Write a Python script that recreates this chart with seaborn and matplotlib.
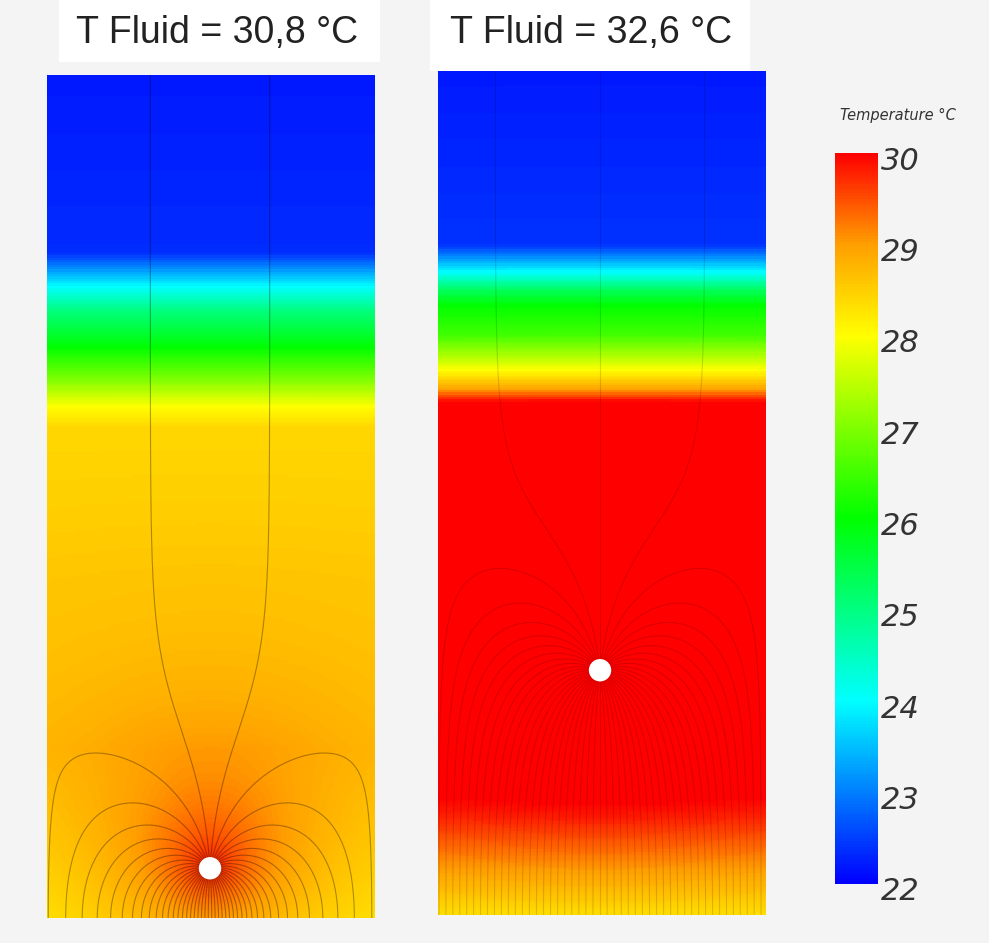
import numpy as np
import seaborn as sns
import matplotlib.pyplot as plt
from matplotlib.colors import LinearSegmentedColormap
from matplotlib.patches import Rectangle
from matplotlib.transforms import ScaledTranslation

# ---- data ----
titles = ['T Fluid = 30,8 °C', 'T Fluid = 32,6 °C']
cbar_ticks = [22, 23, 24, 25, 26, 27, 28, 29, 30]
cmap_colors = ['#0000ff', '#0080ff', '#00ffff', '#00ff80', '#00ff00',
               '#80ff00', '#ffff00', '#ffa000', '#ff0000']

# vertical temperature profiles (depth = fraction of panel height from top)
left_depth = [0.00, 0.211, 0.231, 0.251, 0.279, 0.323, 0.362, 0.394, 0.418, 0.60, 0.80, 1.00]
left_temp = [22.2, 22.35, 23.2, 24.0, 25.0, 26.0, 27.0, 28.0, 28.4, 28.55, 28.6, 28.1]
right_depth = [0.00, 0.206, 0.222, 0.238, 0.26, 0.278, 0.313, 0.342, 0.36, 0.376, 0.395, 0.83, 0.886, 0.935, 1.00]
right_temp = [22.2, 22.4, 23.2, 24.0, 25.3, 26.0, 26.5, 27.5, 28.2, 28.9, 30.2, 30.2, 29.7, 29.1, 28.3]

# heat source (white dot): x fraction, depth fraction
dot_x = [0.497, 0.494]
dot_depth = [0.941, 0.710]
# warm halo around the source: amplitude (°C), decay length (panel widths)
halo_amp = [1.6, 0.5]
halo_len = [0.28, 0.30]
# flux lines: total count, share of flux coming from the top, angular offset
n_lines = [46, 50]
top_share = [0.057, 0.0606]
line_offset = [0.5, 0.0]
line_alpha = [0.32, 0.14]

panel_h = [843 / 328, 844 / 328]  # panel height in panel widths
nx, ny = 140, 360

cmap = LinearSegmentedColormap.from_list('temp', list(zip(np.linspace(0, 1, 9), cmap_colors)))

fig = plt.figure(figsize=(9.89, 9.43), dpi=100, facecolor='#f4f4f4')
axes = [fig.add_axes([47 / 989, 25 / 943, 328 / 989, 843 / 943]),
        fig.add_axes([438 / 989, 28 / 943, 328 / 989, 844 / 943])]
cax = fig.add_axes([835 / 989, 59 / 943, 43 / 989, 731 / 943])


def trace_lines(x0, y0, H, n, share, offset):
    # flux lines of a sink in a walled channel, bottom held at fixed temperature
    z0 = x0 + 1j * y0
    M, V = 1.0, share

    def vel(z):
        w = 1j * V - M / 2 / np.tan(np.pi * (z - z0)) + M / 2 / np.tan(np.pi * (z - np.conj(z0)))
        v = -np.conj(w)
        return v / np.abs(v)

    ang = np.pi / 2 + (np.arange(n) + offset) * 2 * np.pi / n
    z = z0 + 0.012 * np.exp(1j * ang)
    alive = np.ones(n, bool)
    paths = [z.copy()]
    ds = 0.003
    for _ in range(3000):
        k1 = vel(z)
        k2 = vel(z + 0.5 * ds * k1)
        znew = z + ds * k2
        znew = np.clip(znew.real, 0, 1) + 1j * znew.imag
        z = np.where(alive, znew, z)
        alive &= (z.imag > 0) & (z.imag < H)
        paths.append(z.copy())
        if not alive.any():
            break
    return np.array(paths)


profiles = [(left_depth, left_temp), (right_depth, right_temp)]
for i, ax in enumerate(axes):
    H = panel_h[i]
    xs = (np.arange(nx) + 0.5) / nx
    ds_ = (np.arange(ny) + 0.5) / ny
    base = np.interp(ds_, profiles[i][0], profiles[i][1])
    r = np.hypot(xs[None, :] - dot_x[i], (ds_[:, None] - dot_depth[i]) * H)
    field = base[:, None] + halo_amp[i] * np.exp(-r / halo_len[i])

    sns.heatmap(field, ax=ax, cmap=cmap, vmin=22, vmax=30,
                cbar=(i == 1), cbar_ax=cax if i == 1 else None,
                xticklabels=False, yticklabels=False, rasterized=True)

    paths = trace_lines(dot_x[i], (1 - dot_depth[i]) * H, H, n_lines[i], top_share[i], line_offset[i])
    cols = paths.real * nx
    rows = (H - paths.imag) / H * ny
    ax.plot(cols, rows, color='black', alpha=line_alpha[i], lw=0.8)
    ax.scatter([dot_x[i] * nx], [dot_depth[i] * ny], s=260, color='white', zorder=5, edgecolors='none')
    ax.set_xlim(0, nx)
    ax.set_ylim(ny, 0)
    ax.axis('off')

cbar = axes[1].collections[0].colorbar
cbar.set_ticks(cbar_ticks)
cbar.outline.set_visible(False)
cax.tick_params(length=0, pad=2, labelsize=22, labelcolor='#333333')
shift = ScaledTranslation(0, -5 / 100, fig.dpi_scale_trans)
for t in cax.get_yticklabels():
    t.set_fontstyle('italic')
    t.set_transform(t.get_transform() + shift)

fig.text(898 / 989, 1 - 115 / 943, 'Temperature °C', ha='center', va='center',
         fontsize=10.5, style='italic', color='#333333')

# white title boxes
fig.add_artist(Rectangle((59 / 989, 1 - 62 / 943), 321 / 989, 62 / 943,
                         transform=fig.transFigure, facecolor='white', edgecolor='none'))
fig.add_artist(Rectangle((430 / 989, 1 - 71 / 943), 320 / 989, 71 / 943,
                         transform=fig.transFigure, facecolor='white', edgecolor='none'))
fig.text(217 / 989, 1 - 43 / 943, titles[0], ha='center', va='baseline',
         fontsize=27, family='Liberation Sans', color='#222222')
fig.text(591 / 989, 1 - 43 / 943, titles[1], ha='center', va='baseline',
         fontsize=27, family='Liberation Sans', color='#222222')

fig.savefig('out.png', dpi=100, facecolor=fig.get_facecolor())
